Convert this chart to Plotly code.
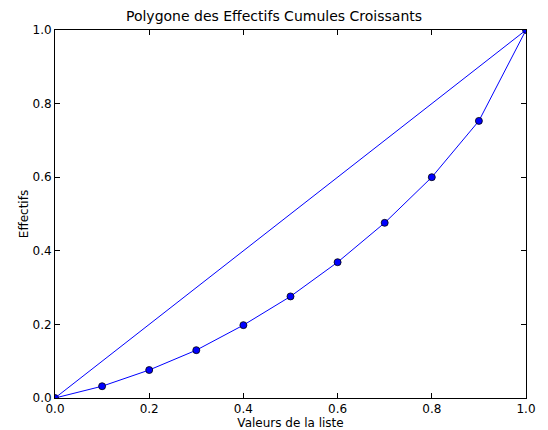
import plotly.graph_objects as go

# Cumulative frequency polygon data
valeurs = [0.0, 0.1, 0.2, 0.3, 0.4, 0.5, 0.6, 0.7, 0.8, 0.9, 1.0]
effectifs = [0.0, 0.032, 0.076, 0.130, 0.198, 0.276, 0.369, 0.476, 0.600, 0.753, 1.0]
diag_x = [0.0, 1.0]
diag_y = [0.0, 1.0]
ticks = [0.0, 0.2, 0.4, 0.6, 0.8, 1.0]

font = "DejaVu Sans"

fig = go.Figure()
fig.add_trace(go.Scatter(
    x=valeurs, y=effectifs, mode="lines+markers",
    line=dict(color="#0000ff", width=1),
    marker=dict(color="#0000ff", size=7, line=dict(color="black", width=0.8)),
    cliponaxis=True, showlegend=False,
))
fig.add_trace(go.Scatter(
    x=diag_x, y=diag_y, mode="lines",
    line=dict(color="#0000ff", width=1),
    cliponaxis=True, showlegend=False,
))

axis_common = dict(
    range=[0, 1], tickvals=ticks, tickformat=".1f",
    ticks="inside", ticklen=5, tickwidth=1, tickcolor="black",
    showline=True, linecolor="black", linewidth=1, mirror="allticks",
    showgrid=False, zeroline=False, automargin=False,
    tickfont=dict(family=font, size=12, color="black"),
)

fig.update_layout(
    width=548, height=430,
    margin=dict(l=55, r=22, t=30, b=32),
    plot_bgcolor="white", paper_bgcolor="white",
    title=dict(text="Polygone des Effectifs Cumules Croissants",
               x=0.5, xanchor="center", y=1 - 16 / 430, yanchor="middle",
               font=dict(family=font, size=14, color="black")),
    xaxis=dict(axis_common, title=dict(text="Valeurs de la liste",
                                       font=dict(family=font, size=12, color="black"),
                                       standoff=0)),
    yaxis=dict(axis_common, title=dict(text="Effectifs",
                                       font=dict(family=font, size=12, color="black"),
                                       standoff=1)),
)

fig.write_html("out.html")
